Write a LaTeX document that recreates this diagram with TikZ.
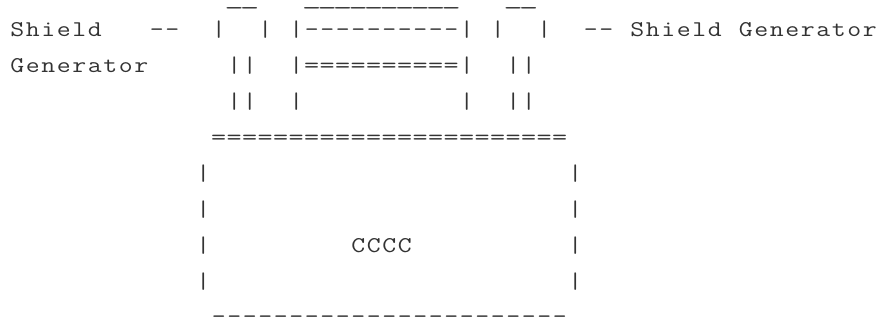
\documentclass[tikz,border=0pt]{standalone}
\usepackage{fontspec}
\usepackage{graphicx}
\ExplSyntaxOn
\dim_new:N \l_art_cw_dim
\dim_set:Nn \l_art_cw_dim {15.5pt}
\NewDocumentCommand \artrow { m }
  {
    \str_map_inline:nn {#1}
      {
        \str_case:nnF {##1}
          {
            {.} { \hbox_to_wd:nn { \l_art_cw_dim } { } }
            {_} { \hbox_to_wd:nn { \l_art_cw_dim } { \hss \scalebox{1.65}[1]{##1} \hss } }
            {=} { \hbox_to_wd:nn { \l_art_cw_dim } { \hss \scalebox{1.3}[1]{##1} \hss } }
          }
          { \hbox_to_wd:nn { \l_art_cw_dim } { \hss \scalebox{1.2}[1]{##1} \hss } }
      }
  }
\ExplSyntaxOff
\newcommand\artfont{\fontsize{22.5pt}{22.5pt}\selectfont\ttfamily}
\definecolor{ink}{HTML}{333333}
\tikzset{artline/.style={anchor=base west, inner sep=0pt, outer sep=0pt, font=\artfont, text=ink}}
\begin{document}
\begin{tikzpicture}[x=1pt,y=-1pt]
\useasboundingbox (0,0) rectangle (882,320);
\node[artline] (r1) at (9.5,4.5) {\artrow{..............__...__________...__}};
\node[artline] (r2) at (9.5,36.7) {\artrow{Shield...--..|..|.|----------|.|..|..--.Shield.Generator}};
\node[artline] (r3) at (9.5,72.6) {\artrow{Generator.....||..|==========|..||}};
\node[artline] (r4) at (9.5,108.5) {\artrow{..............||..|..........|..||}};
\node[artline] (r5) at (9.5,144.4) {\artrow{.............=======================}};
\node[artline] (r6) at (9.5,180.3) {\artrow{............|.......................|}};
\node[artline] (r7) at (9.5,216.2) {\artrow{............|.......................|}};
\node[artline] (r8) at (9.5,252.1) {\artrow{............|.........CCCC..........|}};
\node[artline] (r9) at (9.5,288.0) {\artrow{............|.......................|}};
\node[artline] (r10) at (9.5,323.9) {\artrow{.............-----------------------}};
\end{tikzpicture}
\end{document}
